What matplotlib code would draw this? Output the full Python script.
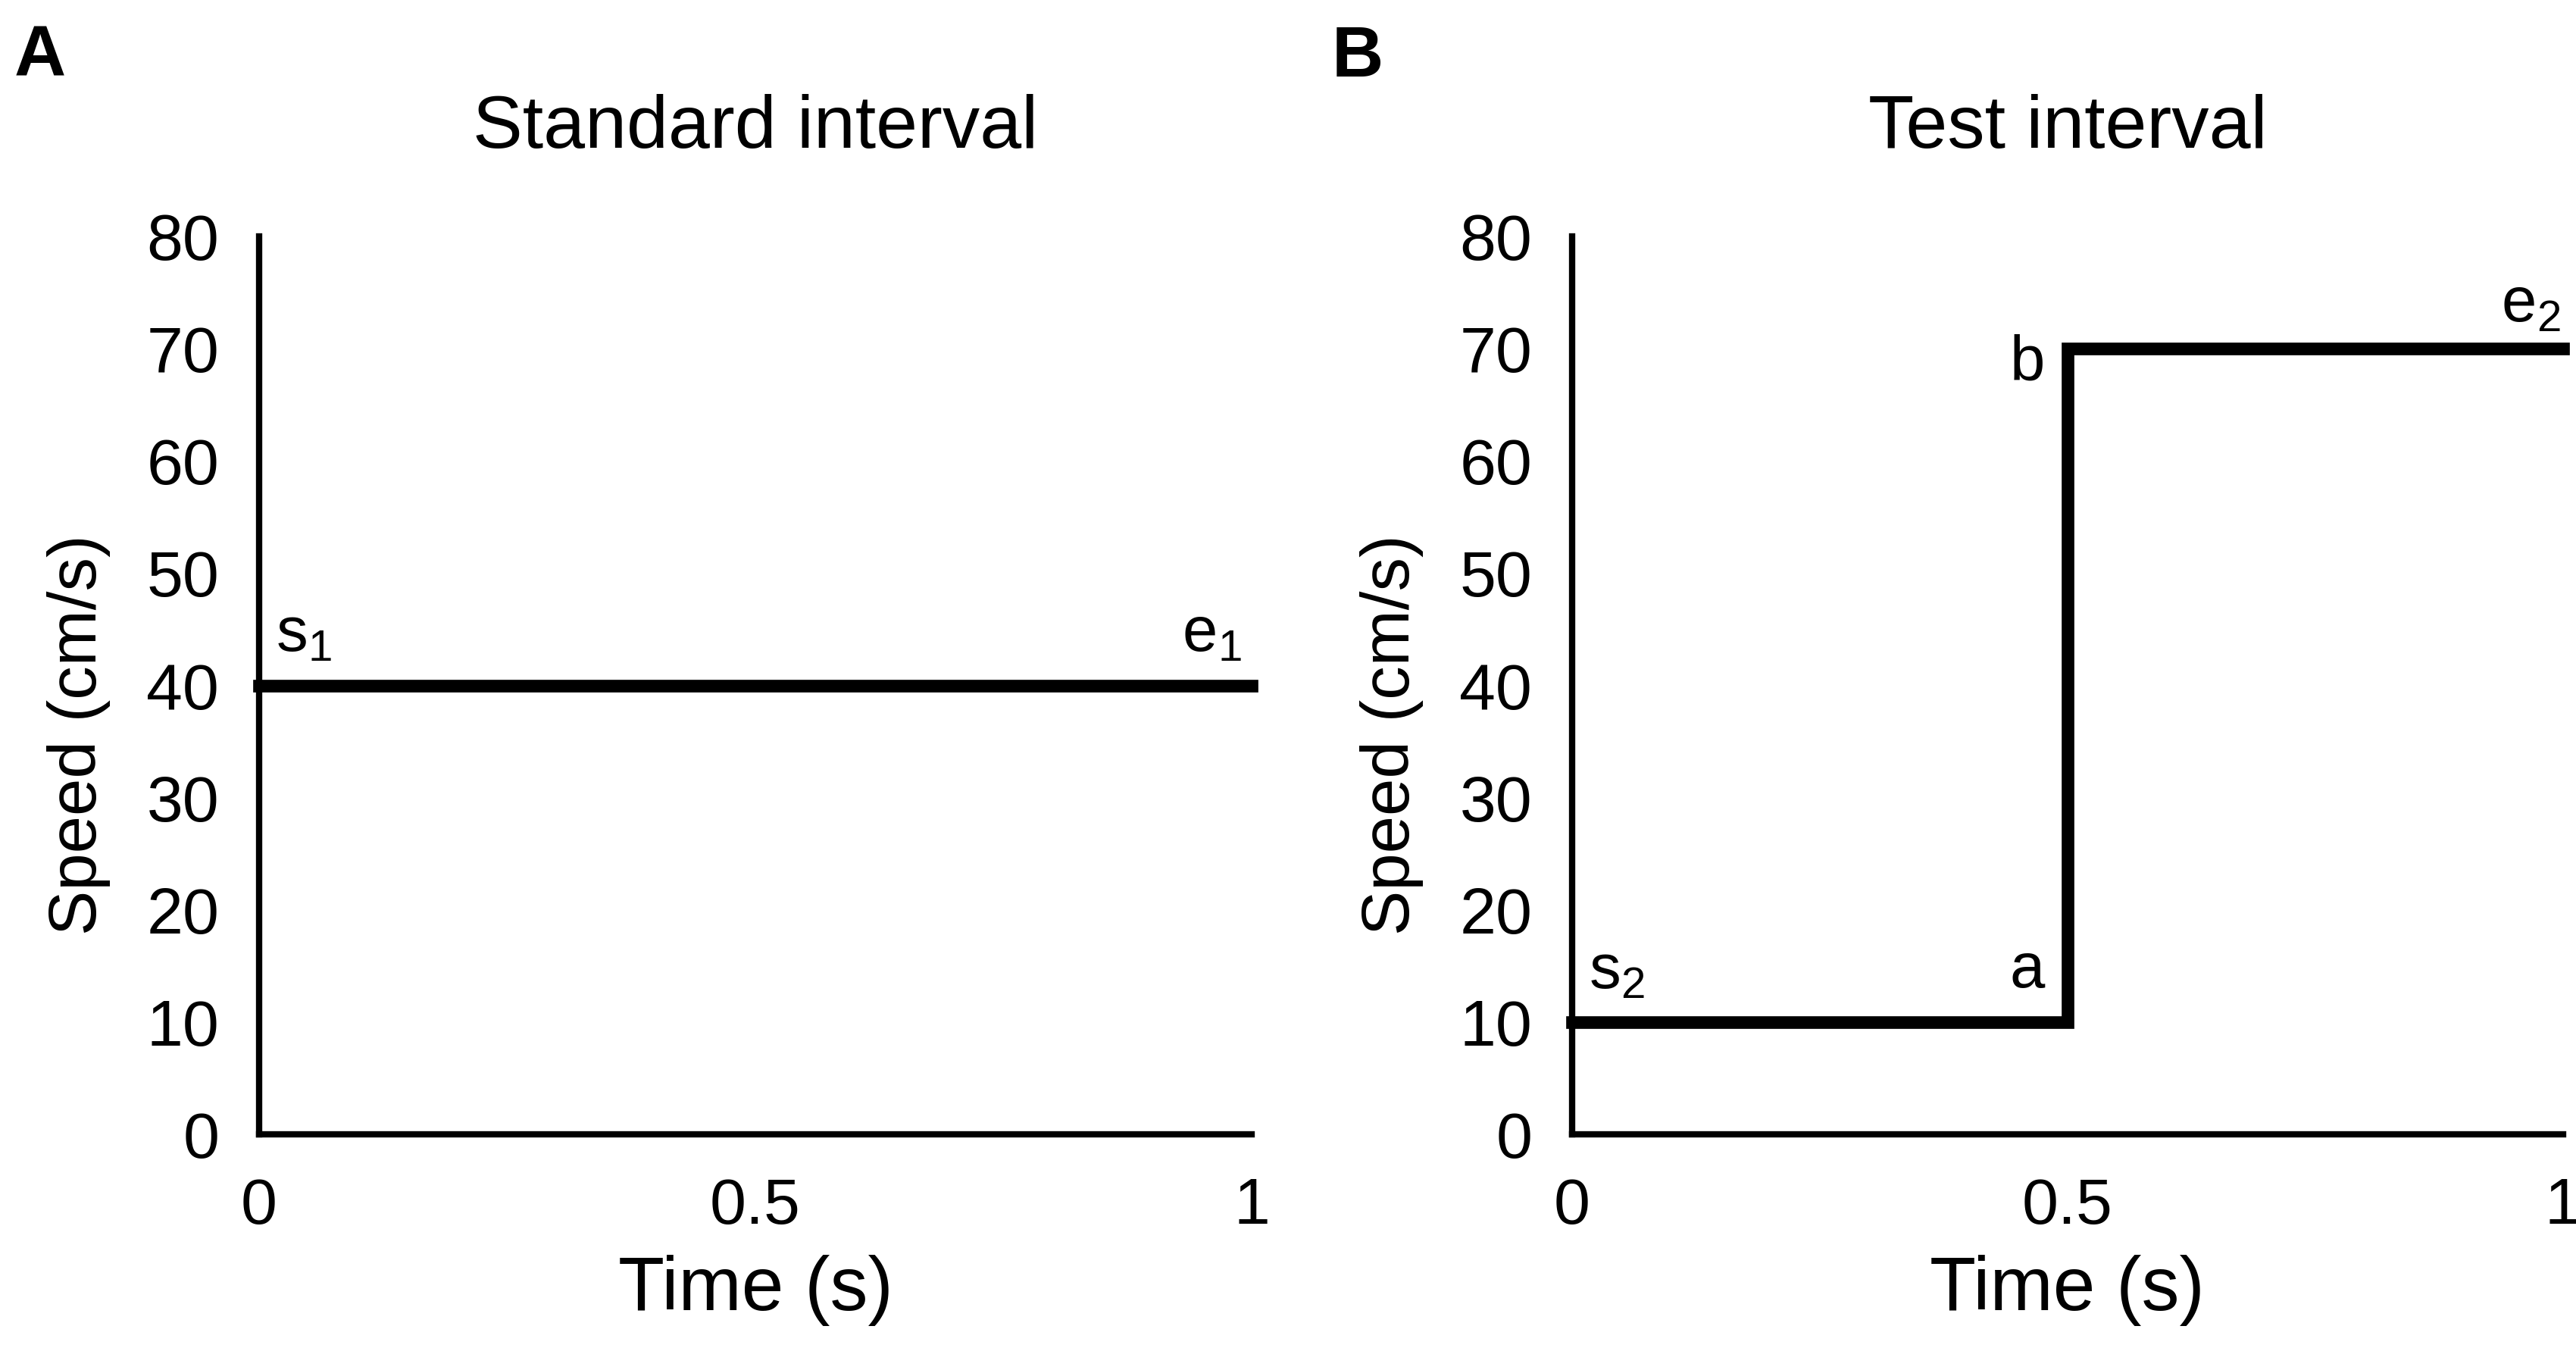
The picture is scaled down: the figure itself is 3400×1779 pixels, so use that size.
import matplotlib
matplotlib.use('Agg')
import matplotlib.pyplot as plt

plt.rcParams['font.family'] = ['Liberation Sans', 'DejaVu Sans']
plt.rcParams['mathtext.fontset'] = 'custom'
plt.rcParams['mathtext.rm'] = 'Liberation Sans'
plt.rcParams['mathtext.it'] = 'Liberation Sans'
plt.rcParams['mathtext.default'] = 'rm'

# data
time_std = [0, 1]
speed_std = [40, 40]
time_test = [0, 0.5, 0.5, 1]
speed_test = [10, 10, 70, 70]

x_ticks = [0, 0.5, 1]
x_tick_labels = ['0', '0.5', '1']
y_ticks = [0, 10, 20, 30, 40, 50, 60, 70, 80]

titles = ['Standard interval', 'Test interval']
panel_letters = ['A', 'B']

# point labels: (text, x, y, ha)
labels_std = [('s$_1$', 0.017, 43, 'left'),
              ('e$_1$', 0.99, 43, 'right')]
labels_test = [('s$_2$', 0.017, 13, 'left'),
               ('a', 0.477, 13.1, 'right'),
               ('b', 0.477, 67.2, 'right'),
               ('e$_2$', 0.998, 72.4, 'right')]

fig = plt.figure(figsize=(34, 17.79), dpi=100)
ax_a = fig.add_axes([0.1006, 0.1583, 0.3853, 0.6665])
ax_b = fig.add_axes([0.6103, 0.1583, 0.3846, 0.6665])


def style_axes(ax, title):
    ax.set_xlim(0, 1)
    ax.set_ylim(0, 80)
    ax.spines['top'].set_visible(False)
    ax.spines['right'].set_visible(False)
    ax.spines['left'].set_linewidth(6)
    ax.spines['bottom'].set_linewidth(6)
    ax.set_xticks(x_ticks)
    ax.set_xticklabels(x_tick_labels)
    ax.set_yticks(y_ticks)
    ax.tick_params(axis='both', length=0, labelsize=62)
    ax.tick_params(axis='x', pad=40)
    ax.tick_params(axis='y', pad=38)
    ax.set_xlabel('Time (s)', fontsize=72)
    ax.xaxis.set_label_coords(0.5, -0.134)
    ax.set_ylabel('Speed (cm/s)', fontsize=64)
    ax.yaxis.set_label_coords(-0.150, 0.445)
    ax.text(0.5, 1.12, title, transform=ax.transAxes, ha='center', va='center',
            fontsize=71)


style_axes(ax_a, titles[0])
style_axes(ax_b, titles[1])

ax_a.plot(time_std, speed_std, color='black', lw=12, clip_on=False,
          solid_capstyle='projecting')
ax_b.plot(time_test, speed_test, color='black', lw=12, clip_on=False,
          solid_capstyle='projecting', solid_joinstyle='miter')

for txt, x, y, ha in labels_std:
    ax_a.text(x, y, txt, ha=ha, va='baseline', fontsize=60)
for txt, x, y, ha in labels_test:
    ax_b.text(x, y, txt, ha=ha, va='baseline', fontsize=60)

fig.text(0.0155, 0.957, panel_letters[0], ha='center', va='center',
         fontsize=68, fontweight='bold')
fig.text(0.527, 0.957, panel_letters[1], ha='center', va='center',
         fontsize=68, fontweight='bold')

fig.savefig('out.png', dpi=100, facecolor='white')
